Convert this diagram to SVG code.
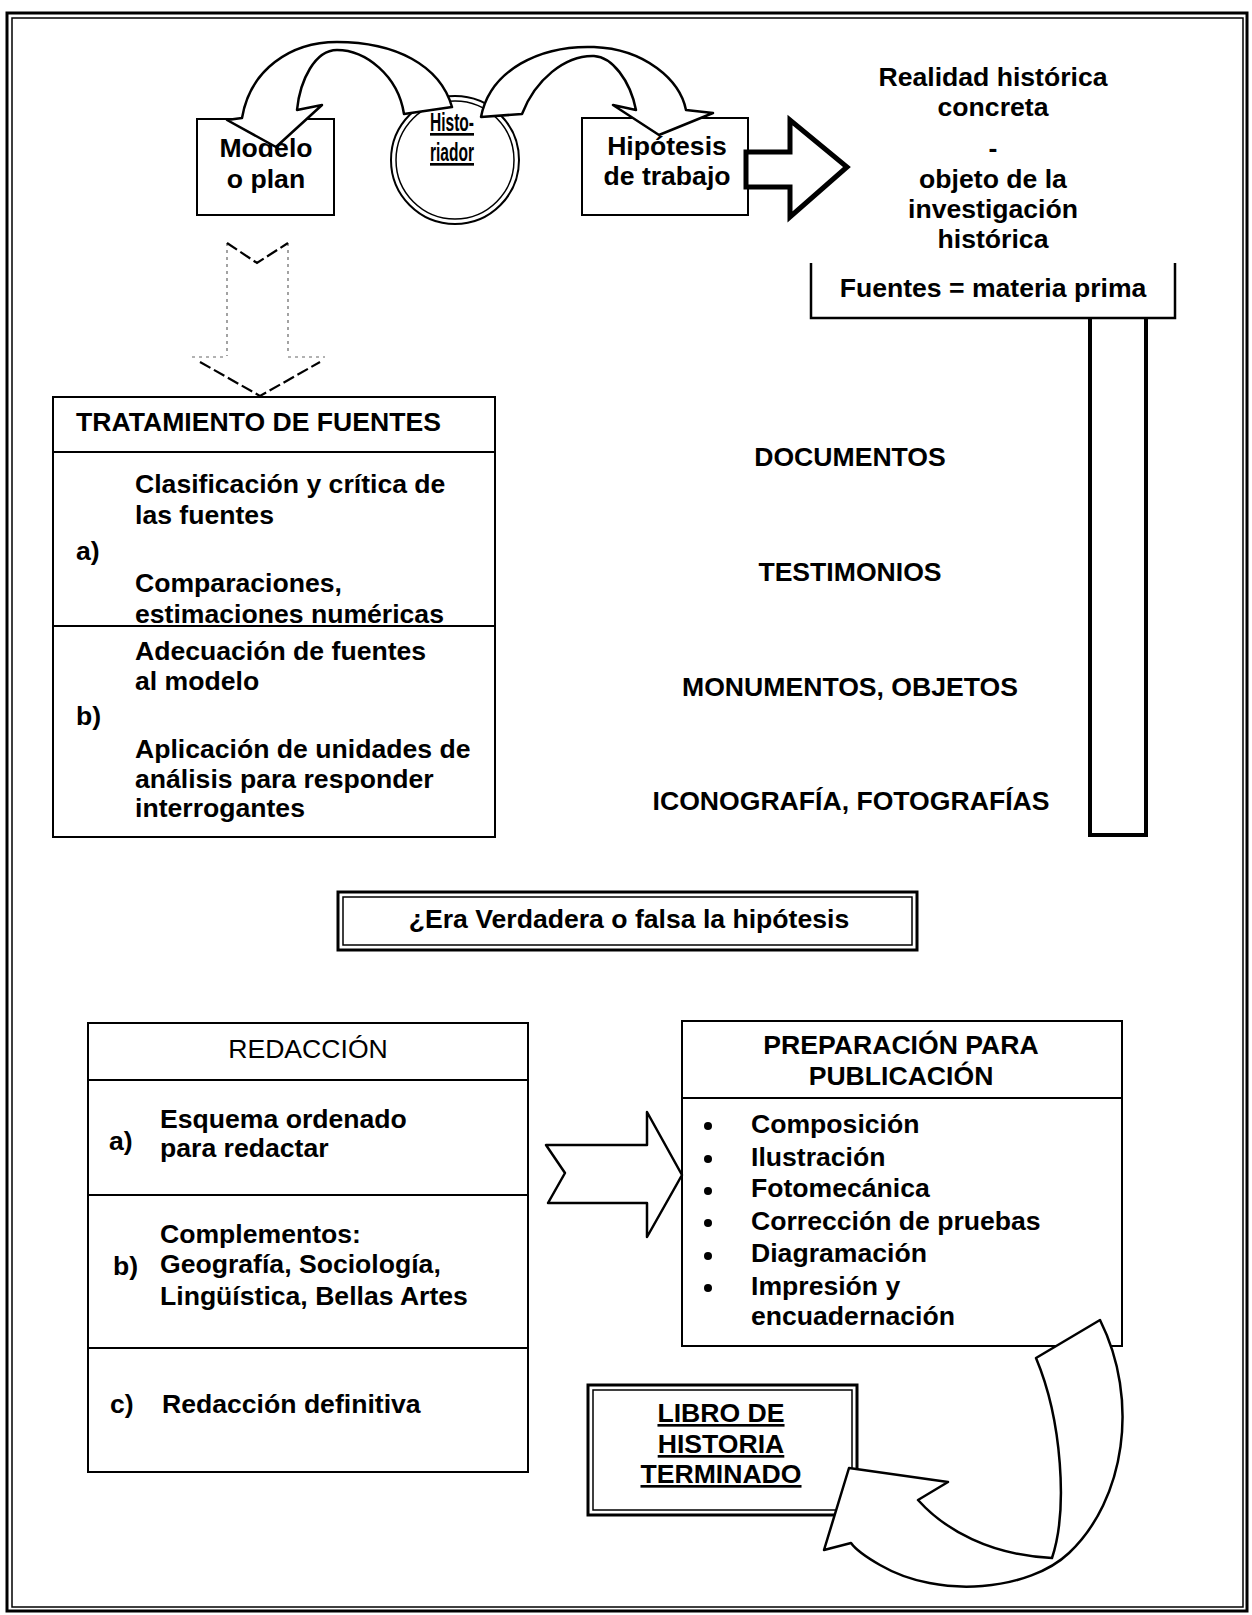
<svg xmlns="http://www.w3.org/2000/svg" width="1252" height="1615" viewBox="0 0 1252 1615">
  <style>
    .t { font-family: "Liberation Sans", Arial, Helvetica, sans-serif; font-size: 26.6px; font-weight: bold; fill: #000; }
    .r { font-weight: normal; }
    .c { text-anchor: middle; }
    .u { text-decoration: underline; }
    .box { fill: #fff; stroke: #000; stroke-width: 2; }
    .thick { fill: none; stroke: #000; stroke-width: 3; }
    .thin { fill: none; stroke: #000; stroke-width: 1.5; }
    .arrow { fill: #fff; stroke: #000; stroke-width: 2.5; stroke-linejoin: round; }
    .faint { fill: none; stroke: #666; stroke-width: 1.2; stroke-dasharray: 3 4; }
    .dash { fill: none; stroke: #000; stroke-width: 2.2; stroke-dasharray: 12 4; }
  </style>

  <rect width="1252" height="1615" fill="#fff"/>

  <!-- page frame: thick outer line with a thin inner line -->
  <g id="frame">
    <rect class="thick" x="7" y="13" width="1240" height="1598"/>
    <rect class="thin" x="12" y="18" width="1231" height="1589"/>
  </g>

  <!-- nodes -->
  <g id="modelo">
    <rect class="box" x="197" y="119" width="137" height="96"/>
    <text class="t c" x="266" y="157">Modelo</text>
    <text class="t c" x="266" y="188">o plan</text>
  </g>

  <g id="historiador">
    <circle cx="455" cy="160" r="64" fill="#fff" stroke="#000" stroke-width="2"/>
    <circle cx="455" cy="160" r="59" fill="none" stroke="#000" stroke-width="1.5"/>
    <text class="t u" x="430" y="131" font-size="16" textLength="44" lengthAdjust="spacingAndGlyphs">Histo-</text>
    <text class="t u" x="430" y="161" font-size="16" textLength="44" lengthAdjust="spacingAndGlyphs">riador</text>
  </g>

  <g id="hipotesis">
    <rect class="box" x="582" y="118" width="166" height="97"/>
    <text class="t c" x="667" y="155">Hipótesis</text>
    <text class="t c" x="667" y="185">de trabajo</text>
  </g>

  <g id="realidad">
    <text class="t c" x="993" y="86">Realidad histórica</text>
    <text class="t c" x="993" y="116">concreta</text>
    <text class="t c" x="993" y="157" font-size="30">-</text>
    <text class="t c" x="993" y="188">objeto de la</text>
    <text class="t c" x="993" y="218">investigación</text>
    <text class="t c" x="993" y="248">histórica</text>
  </g>

  <g id="fuentes">
    <path d="M811,263 V318 H1175 V263" fill="none" stroke="#000" stroke-width="2.5"/>
    <text class="t c" x="993" y="297">Fuentes = materia prima</text>
    <path d="M1090,318 V835 H1146 V318" fill="none" stroke="#000" stroke-width="4"/>
  </g>

  <g id="tipos-fuentes">
    <text class="t c" x="850" y="466">DOCUMENTOS</text>
    <text class="t c" x="850" y="581">TESTIMONIOS</text>
    <text class="t c" x="850" y="696">MONUMENTOS, OBJETOS</text>
    <text class="t c" x="851" y="810">ICONOGRAFÍA, FOTOGRAFÍAS</text>
  </g>

  <g id="tratamiento">
    <rect class="box" x="53" y="397" width="442" height="440"/>
    <line x1="53" y1="452" x2="495" y2="452" stroke="#000" stroke-width="2"/>
    <line x1="53" y1="626" x2="495" y2="626" stroke="#000" stroke-width="2"/>
    <text class="t" x="76" y="431">TRATAMIENTO DE FUENTES</text>
    <text class="t" x="135" y="493">Clasificación y crítica de</text>
    <text class="t" x="135" y="524">las fuentes</text>
    <text class="t" x="76" y="560">a)</text>
    <text class="t" x="135" y="592">Comparaciones,</text>
    <text class="t" x="135" y="623">estimaciones numéricas</text>
    <text class="t" x="135" y="660">Adecuación de fuentes</text>
    <text class="t" x="135" y="690">al modelo</text>
    <text class="t" x="76" y="725">b)</text>
    <text class="t" x="135" y="758">Aplicación de unidades de</text>
    <text class="t" x="135" y="788">análisis para responder</text>
    <text class="t" x="135" y="817">interrogantes</text>
  </g>

  <g id="pregunta">
    <rect class="thick" x="338" y="892" width="579" height="58" fill="#fff"/>
    <rect class="thin" x="343" y="897" width="569" height="48"/>
    <text class="t c" x="629" y="928">¿Era Verdadera o falsa la hipótesis</text>
  </g>

  <g id="redaccion">
    <rect class="box" x="88" y="1023" width="440" height="449"/>
    <line x1="88" y1="1080" x2="528" y2="1080" stroke="#000" stroke-width="2"/>
    <line x1="88" y1="1195" x2="528" y2="1195" stroke="#000" stroke-width="2"/>
    <line x1="88" y1="1348" x2="528" y2="1348" stroke="#000" stroke-width="2"/>
    <text class="t r c" x="308" y="1058">REDACCIÓN</text>
    <text class="t" x="109" y="1150">a)</text>
    <text class="t" x="160" y="1128">Esquema ordenado</text>
    <text class="t" x="160" y="1157">para redactar</text>
    <text class="t" x="113" y="1275">b)</text>
    <text class="t" x="160" y="1243">Complementos:</text>
    <text class="t" x="160" y="1273">Geografía, Sociología,</text>
    <text class="t" x="160" y="1305">Lingüística, Bellas Artes</text>
    <text class="t" x="110" y="1413">c)</text>
    <text class="t" x="162" y="1413">Redacción definitiva</text>
  </g>

  <g id="preparacion">
    <rect class="box" x="682" y="1021" width="440" height="325"/>
    <line x1="682" y1="1098" x2="1122" y2="1098" stroke="#000" stroke-width="2"/>
    <text class="t c" x="901" y="1054">PREPARACIÓN PARA</text>
    <text class="t c" x="901" y="1085">PUBLICACIÓN</text>
    <g fill="#000">
      <circle cx="708" cy="1126" r="4"/>
      <circle cx="708" cy="1159" r="4"/>
      <circle cx="708" cy="1191" r="4"/>
      <circle cx="708" cy="1223" r="4"/>
      <circle cx="708" cy="1256" r="4"/>
      <circle cx="708" cy="1288" r="4"/>
    </g>
    <text class="t" x="751" y="1133">Composición</text>
    <text class="t" x="751" y="1166">Ilustración</text>
    <text class="t" x="751" y="1197">Fotomecánica</text>
    <text class="t" x="751" y="1230">Corrección de pruebas</text>
    <text class="t" x="751" y="1262">Diagramación</text>
    <text class="t" x="751" y="1295">Impresión y</text>
    <text class="t" x="751" y="1325">encuadernación</text>
  </g>

  <g id="libro">
    <rect class="thick" x="588" y="1385" width="269" height="130" fill="#fff"/>
    <rect class="thin" x="593" y="1390" width="259" height="120"/>
    <text class="t c u" x="721" y="1422">LIBRO DE</text>
    <text class="t c u" x="721" y="1453">HISTORIA</text>
    <text class="t c u" x="721" y="1483">TERMINADO</text>
  </g>

  <!-- connectors -->
  <g id="connectors">
    <!-- historiador to modelo -->
    <path class="arrow" d="M404,114 C398,75 365,50 337,50 C315,50 300,80 297,110 L322,105 L276,147 L227,120 L242,118 C250,70 290,42 337,42 C395,42 440,65 452,107 Z"/>
    <!-- historiador to hipotesis -->
    <path class="arrow" d="M481,117 C490,70 540,45 594,47 C645,49 680,80 686,110 L713,113 L659,135 L613,105 L636,110 C630,80 612,57 594,56 C565,55 535,80 522,114 Z"/>
    <!-- hipotesis to realidad historica -->
    <polygon points="746,152 790,152 790,120 847,167 790,217 790,187 746,187" fill="#fff" stroke="#000" stroke-width="5" stroke-linejoin="miter"/>
    <!-- modelo to tratamiento (dashed outline arrow) -->
    <g id="modelo-tratamiento">
      <line class="faint" x1="227" y1="243" x2="227" y2="356"/>
      <line class="faint" x1="288" y1="243" x2="288" y2="352"/>
      <line class="faint" x1="192" y1="357" x2="227" y2="357"/>
      <line class="faint" x1="288" y1="357" x2="325" y2="357"/>
      <polyline class="dash" points="227,243 257,263 288,243"/>
      <polyline class="dash" points="200,362 260,396 320,362"/>
    </g>
    <!-- redaccion to preparacion -->
    <polygon class="arrow" points="546,1145 647,1145 647,1112 682,1175 647,1237 647,1203 548,1203 565,1173" stroke-width="2"/>
    <!-- preparacion to libro -->
    <path class="arrow" d="M1036,1358 L1100,1320 C1140,1400 1125,1500 1069,1553 C1030,1590 940,1600 880,1565 C866,1557 856,1550 851,1543 L824,1550 L849,1468 L948,1482 L918,1500 C945,1530 990,1555 1052,1558 C1068,1510 1062,1420 1036,1358 Z"/>
  </g>
</svg>
